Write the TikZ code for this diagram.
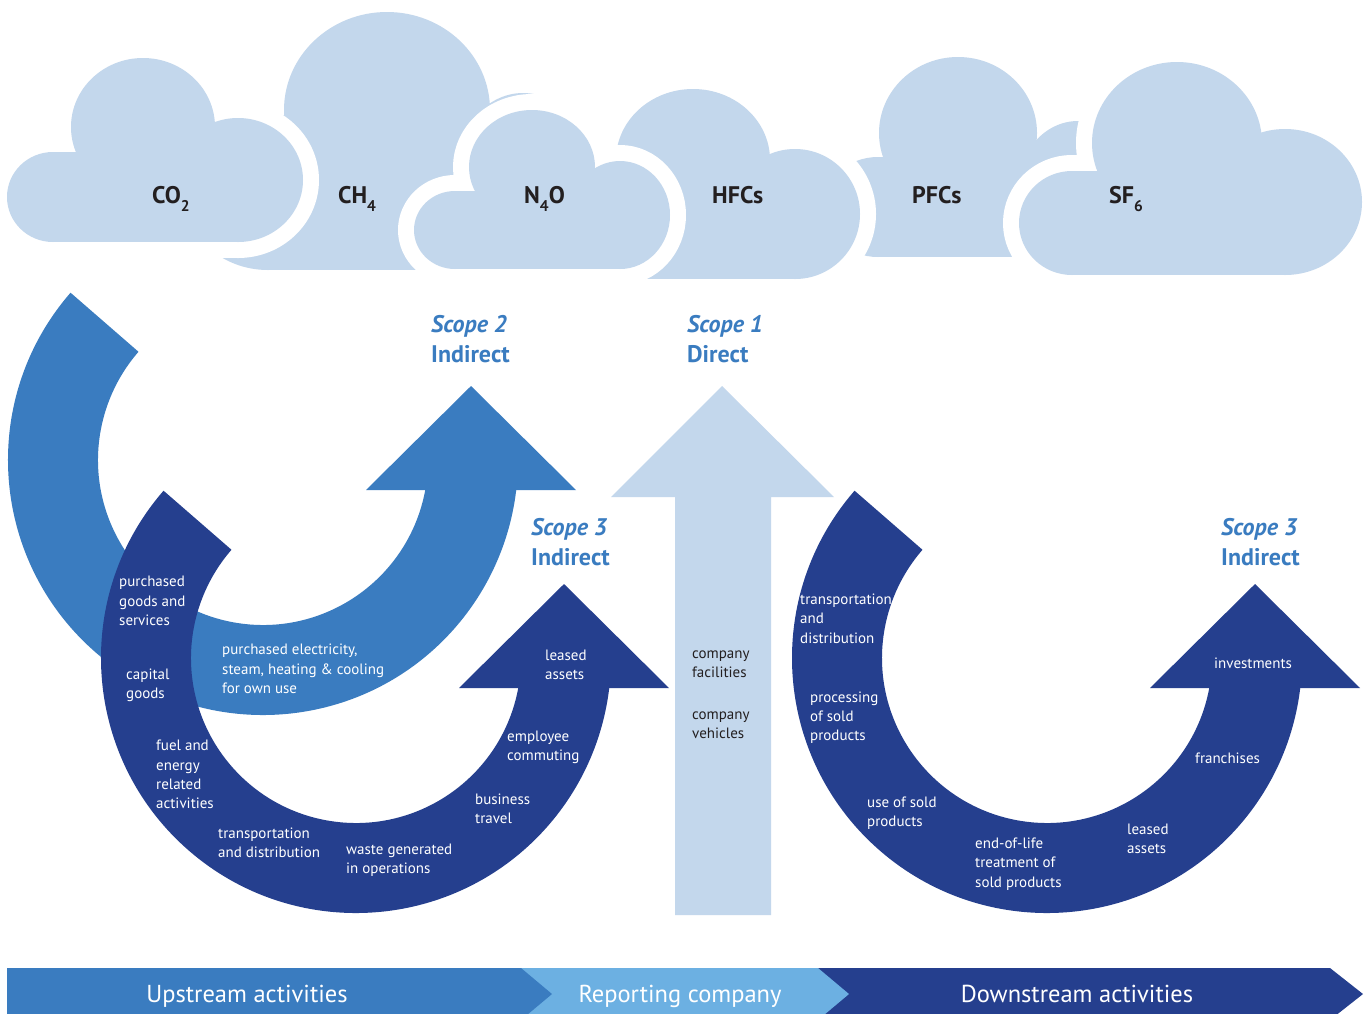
\documentclass[tikz,border=0pt]{standalone}
\usepackage{fontspec}
\setmainfont{PT Sans}
\definecolor{medblue}{HTML}{3A7CC0}
\definecolor{darkblue}{HTML}{253F8E}
\definecolor{lightblue}{HTML}{C3D7EC}
\definecolor{repblue}{HTML}{6CB0E2}
\definecolor{txtdark}{HTML}{231F20}
\newcommand\gassub[1]{\raisebox{-8pt}{\fontsize{15.5}{15.5}\selectfont #1}}
% a cloud: left lobe, top bump, right lobe, body
\newcommand\cloudpart[5]{\path[#1] (#2,#3) ellipse[x radius=#4,y radius=#5];}
\newcommand\cloudCH[1]{\cloudpart{#1}{268}{192}{85}{78}\cloudpart{#1}{387}{110}{103}{98}\cloudpart{#1}{523}{180}{70}{87}\path[#1] (268,180) rectangle (523,270);}
\newcommand\cloudCO[1]{\cloudpart{#1}{53}{197}{46}{45}\cloudpart{#1}{143}{127}{72}{69}\cloudpart{#1}{238}{180}{65}{62}\path[#1] (53,152) rectangle (238,242);}
\newcommand\cloudNO[1]{\cloudpart{#1}{455}{230}{41}{39}\cloudpart{#1}{532}{167}{63}{57}\cloudpart{#1}{620}{215}{50}{54}\path[#1] (455,191) rectangle (620,269);}
\newcommand\cloudHF[1]{\cloudpart{#1}{645}{228}{50}{51}\cloudpart{#1}{693}{160}{77}{71}\cloudpart{#1}{795}{214}{65}{65}\path[#1] (645,177) rectangle (795,279);}
\newcommand\cloudPF[1]{\cloudpart{#1}{878}{207}{55}{50}\cloudpart{#1}{958}{133}{79}{76}\cloudpart{#1}{1078}{189}{60}{68}\path[#1] (878,157) rectangle (1078,257);}
\newcommand\cloudSF[1]{\cloudpart{#1}{1072}{223}{53}{52}\cloudpart{#1}{1177}{143}{85}{81}\cloudpart{#1}{1285}{202}{77}{73}\path[#1] (1072,171) rectangle (1285,275);}
\begin{document}
\begin{tikzpicture}[x=1pt,y=-1pt,
  cloudring/.style={fill=white,draw=white,line width=32pt,line join=round},
  cloudfill/.style={fill=lightblue},
  arclabel/.style={anchor=west,align=left,inner sep=0pt,text=white,font=\fontsize{15}{19.3}\selectfont},
  boxlabel/.style={arclabel,text=txtdark},
  scopelabel/.style={anchor=west,align=left,inner sep=0pt,text=medblue,font=\bfseries\fontsize{24}{30}\selectfont},
  gaslabel/.style={anchor=base west,inner sep=0pt,text=txtdark,font=\bfseries\fontsize{24}{24}\selectfont},
  barlabel/.style={anchor=base,inner sep=0pt,text=white,font=\fontsize{24.5}{24.5}\selectfont}]
\useasboundingbox (0,0) rectangle (1370,1013);
\clip (0,0) rectangle (1370,1013);
\fill[white] (0,0) rectangle (1370,1013);
% clouds (bottom to top), each with a white ring that cuts the clouds below
\cloudCH{cloudring}\cloudCH{cloudfill}
\cloudPF{cloudring}\cloudPF{cloudfill}
\cloudHF{cloudring}\cloudHF{cloudfill}
\cloudSF{cloudring}\cloudSF{cloudfill}
\cloudCO{cloudring}\cloudCO{cloudfill}
\cloudNO{cloudring}\cloudNO{cloudfill}
\node[gaslabel] (co2) at (152,203) {CO\gassub{2}};
\node[gaslabel] (ch4) at (338,203) {CH\gassub{4}};
\node[gaslabel] (n4o) at (524,203) {N\gassub{4}O};
\node[gaslabel] (hfc) at (712,203) {HFCs};
\node[gaslabel] (pfc) at (912,203) {PFCs};
\node[gaslabel] (sf6) at (1109,203) {SF\gassub{6}};
% scope 2 arc
\begin{scope}[shift={(263,460)}]
\fill[medblue] (221:255) arc[start angle=221,end angle=6.76,radius=255] -- (313,30) -- (208,-74) -- (103,30) -- (10.48:165) arc[start angle=10.48,end angle=221,radius=165] -- cycle;
\end{scope}
% scope 3 upstream arc
\begin{scope}[shift={(356,658)}]
\fill[darkblue] (221:255) arc[start angle=221,end angle=6.76,radius=255] -- (313,30) -- (208,-74) -- (103,30) -- (10.48:165) arc[start angle=10.48,end angle=221,radius=165] -- cycle;
\end{scope}
% scope 3 downstream arc
\begin{scope}[shift={(1047,658)}]
\fill[darkblue] (221:255) arc[start angle=221,end angle=6.76,radius=255] -- (313,30) -- (208,-74) -- (103,30) -- (10.48:165) arc[start angle=10.48,end angle=221,radius=165] -- cycle;
\end{scope}
% scope 1 arrow
\fill[lightblue] (675,915) -- (675,497) -- (611,497) -- (722,386) -- (834,497) -- (771,497) -- (771,915) -- cycle;
% scope labels
\node[scopelabel] (s2) at (431,339) {\textit{Scope 2}\\Indirect};
\node[scopelabel] (s1) at (687,339) {\textit{Scope 1}\\Direct};
\node[scopelabel] (s3u) at (531,542) {\textit{Scope 3}\\Indirect};
\node[scopelabel] (s3d) at (1221,542) {\textit{Scope 3}\\Indirect};
% upstream labels
\node[arclabel] (pgs) at (119,601) {purchased\\goods and\\services};
\node[arclabel] (cg) at (126,685.5) {capital\\goods};
\node[arclabel] (fer) at (156,774.5) {fuel and\\energy\\related\\activities};
\node[arclabel] (td) at (218,843) {transportation\\and distribution};
\node[arclabel] (wg) at (346,860) {waste generated\\in operations};
\node[arclabel] (bt) at (475,808.5) {business\\travel};
\node[arclabel] (ec) at (507,747) {employee\\commuting};
\node[arclabel] (la) at (545,664.5) {leased\\assets};
\node[arclabel] (pe) at (222,669) {purchased electricity,\\steam, heating \& cooling\\for own use};
% company
\node[boxlabel] (cf) at (692,664.5) {company\\facilities};
\node[boxlabel] (cv) at (692,725) {company\\vehicles};
% downstream labels
\node[arclabel] (dtd) at (800,618.5) {transportation\\and\\distribution};
\node[arclabel] (psp) at (810,717.5) {processing\\of sold\\products};
\node[arclabel] (usp) at (867,813.5) {use of sold\\products};
\node[arclabel] (eol) at (975,864) {end-of-life\\treatment of\\sold products};
\node[arclabel] (dla) at (1127,839) {leased\\assets};
\node[arclabel] (fr) at (1195,758) {franchises};
\node[arclabel] (inv) at (1214,663) {investments};
% bottom bar
\fill[darkblue] (818,968) -- (1330,968) -- (1363,994) -- (1330,1020) -- (818,1020) -- cycle;
\fill[repblue] (521,968) -- (818,968) -- (849,994) -- (818,1020) -- (521,1020) -- cycle;
\fill[medblue] (7,968) -- (521,968) -- (552,994) -- (521,1020) -- (7,1020) -- cycle;
\node[barlabel] (up) at (247,1002) {Upstream activities};
\node[barlabel] (rc) at (680,1002) {Reporting company};
\node[barlabel] (dn) at (1077,1002) {Downstream activities};
\end{tikzpicture}
\end{document}
